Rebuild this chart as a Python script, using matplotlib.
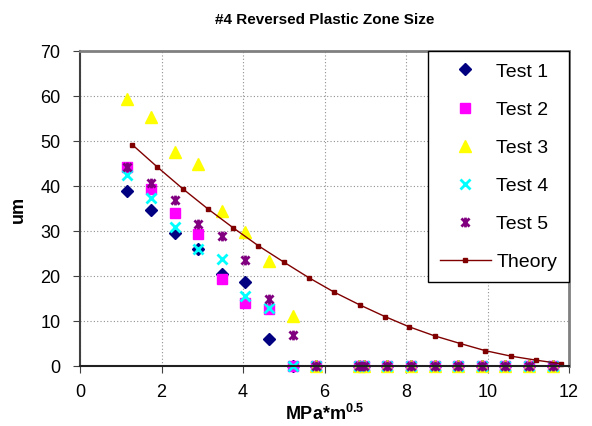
import numpy as np
import matplotlib
matplotlib.use("Agg")
import matplotlib.pyplot as plt
from matplotlib.path import Path

plt.rcParams['font.family'] = ['Liberation Sans', 'DejaVu Sans']
plt.rcParams['mathtext.fontset'] = 'custom'
plt.rcParams['mathtext.bf'] = 'Liberation Sans:bold'
plt.rcParams['mathtext.rm'] = 'Liberation Sans'

# measured stress intensity positions (MPa*m^0.5)
x_test = [1.16, 1.74, 2.32, 2.90, 3.48, 4.06, 4.64, 5.22, 5.80, 6.84, 6.96,
          7.54, 8.12, 8.70, 9.28, 9.86, 10.44, 11.02, 11.60]
n_zero = 10

test1 = [39.0, 34.6, 29.6, 25.9, 20.4, 18.7, 6.1, 0, 0] + [0] * n_zero
test2 = [44.2, 39.3, 34.1, 29.4, 19.4, 13.9, 12.7, 0, 0] + [0] * n_zero
test3 = [59.4, 55.4, 47.6, 44.8, 34.4, 29.8, 23.3, 11.1, 0] + [0] * n_zero
test4 = [42.4, 37.4, 30.9, 26.1, 23.7, 15.6, 13.0, 0, 0] + [0] * n_zero
test5 = [44.2, 40.6, 36.9, 31.5, 28.9, 23.5, 14.8, 6.8, 0] + [0] * n_zero

x_theory = [1.28, 1.90, 2.52, 3.14, 3.76, 4.38, 5.00, 5.62, 6.24, 6.86,
            7.48, 8.08, 8.70, 9.33, 9.95, 10.57, 11.19, 11.81]
theory = [49.2, 44.2, 39.4, 34.9, 30.7, 26.7, 23.1, 19.6, 16.4, 13.6,
          11.0, 8.7, 6.7, 5.0, 3.4, 2.2, 1.3, 0.5]

# excel-style star: X with a vertical bar
star = Path([(-1, -1), (1, 1), (-1, 1), (1, -1), (0, -1.2), (0, 1.2)],
            [Path.MOVETO, Path.LINETO, Path.MOVETO, Path.LINETO, Path.MOVETO, Path.LINETO])

fig = plt.figure(figsize=(5.92, 4.27), dpi=100)
ax = fig.add_axes([80 / 592, 60 / 427, 489 / 592, 315 / 427])

kw = dict(linestyle='none', clip_on=False)
ax.plot(x_test, test1, marker='D', color='#000080', markersize=6.5, label='Test 1', **kw)
ax.plot(x_test, test2, marker='s', color='#FF00FF', markersize=7, label='Test 2', **kw)
ax.plot(x_test, test3, marker='^', color='#FFFF00', markersize=8, label='Test 3', **kw)
ax.plot(x_test, test4, marker='x', color='#00FFFF', markersize=6.5, markeredgewidth=2,
        label='Test 4', **kw)
ax.plot(x_test, test5, marker=star, color='#800080', markersize=7, markeredgewidth=2,
        label='Test 5', **kw)
ax.plot(x_theory, theory, marker='s', color='#800000', markersize=3.5, linewidth=1,
        label='Theory', clip_on=False)

ax.set_xlim(0, 12)
ax.set_ylim(0, 70)
ax.set_xticks(np.arange(0, 13, 2))
ax.set_yticks(np.arange(0, 71, 10))
ax.tick_params(labelsize=13, direction='out', length=5, color='#404040')
ax.tick_params(axis='x', pad=7)
ax.tick_params(axis='y', pad=9)
ax.grid(True, color='#909090', linestyle=(0, (1, 2)), linewidth=0.8)
ax.set_axisbelow(True)

for s in ['top', 'right']:
    ax.spines[s].set_color('#808080')
    ax.spines[s].set_linewidth(2)
ax.spines['left'].set_color('#404040')
ax.spines['left'].set_linewidth(1.5)
ax.spines['bottom'].set_color('#202020')
ax.spines['bottom'].set_linewidth(1.5)

ax.set_title('#4 Reversed Plastic Zone Size', fontsize=11, fontweight='bold', pad=20)
ax.set_xlabel(r'MPa*m$^{\mathbf{0.5}}$', fontsize=13, fontweight='bold', labelpad=2)
ax.set_ylabel('um', fontsize=13, fontweight='bold', labelpad=10)

leg = ax.legend(loc='upper right', borderaxespad=0, fontsize=14, labelspacing=1.05,
                handlelength=2.6, handletextpad=0.3, borderpad=0.6, fancybox=False,
                edgecolor='black', framealpha=1)
leg.get_frame().set_linewidth(1)

fig.savefig('out.png', dpi=100)
